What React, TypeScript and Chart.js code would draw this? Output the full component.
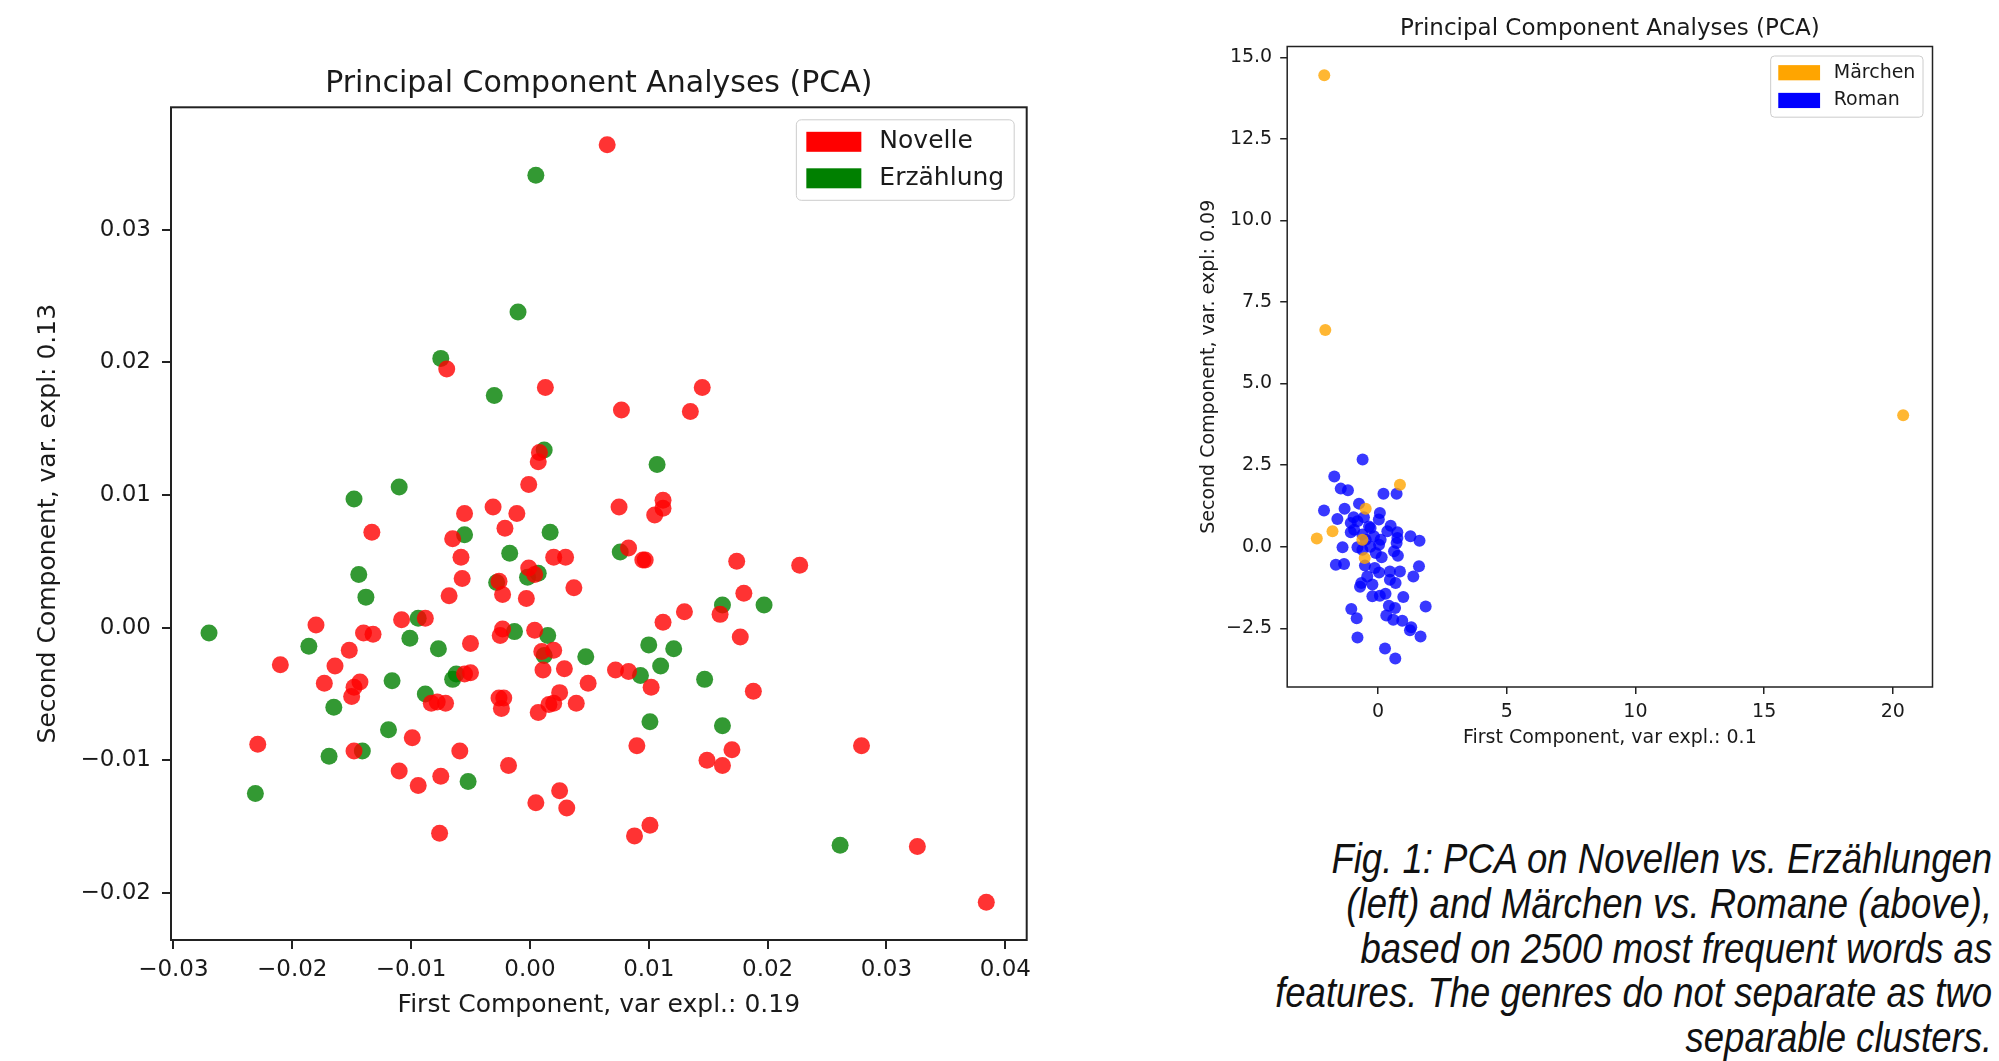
import React, { useEffect, useRef } from 'react';
import { Chart, registerables } from 'chart.js';

Chart.register(...registerables);

// ---------- Left chart data (Novelle vs. Erzählung) ----------
const novellePoints: [number, number][] = [
  [0.0065, 0.0364], [-0.0070, 0.0195], [0.0013, 0.0181], [0.0008, 0.0132], [0.0007, 0.0125],
  [-0.0001, 0.0108], [-0.0055, 0.0086], [-0.0031, 0.0091], [-0.0011, 0.0086], [0.0145, 0.0181],
  [0.0077, 0.0164], [0.0135, 0.0163], [0.0075, 0.0091], [0.0112, 0.0096], [0.0112, 0.0090],
  [0.0105, 0.0085], [-0.0133, 0.0072], [-0.0065, 0.0067], [-0.0021, 0.0075], [-0.0058, 0.0053],
  [0.0020, 0.0053], [0.0030, 0.0053], [-0.0001, 0.0045], [0.0004, 0.0040], [-0.0057, 0.0037],
  [-0.0026, 0.0035], [-0.0023, 0.0025], [-0.0068, 0.0024], [0.0037, 0.0030], [-0.0003, 0.0022],
  [-0.0108, 0.0006], [-0.0088, 0.0007], [-0.0180, 0.0002], [-0.0140, -0.0004], [-0.0132, -0.0005],
  [-0.0023, -0.0001], [-0.0025, -0.0006], [0.0004, -0.0002], [-0.0152, -0.0017], [-0.0050, -0.0012],
  [0.0010, -0.0018], [0.0020, -0.0017], [-0.0210, -0.0028], [-0.0164, -0.0029], [0.0011, -0.0032],
  [0.0029, -0.0031], [-0.0173, -0.0042], [-0.0143, -0.0041], [-0.0148, -0.0045], [-0.0150, -0.0052],
  [-0.0055, -0.0035], [-0.0050, -0.0034], [0.0049, -0.0042], [-0.0083, -0.0057], [-0.0078, -0.0056],
  [-0.0071, -0.0057], [-0.0026, -0.0053], [-0.0022, -0.0053], [-0.0024, -0.0061], [0.0025, -0.0049],
  [0.0016, -0.0058], [0.0020, -0.0057], [0.0007, -0.0064], [0.0039, -0.0057], [-0.0099, -0.0083],
  [-0.0229, -0.0088], [-0.0148, -0.0093], [-0.0059, -0.0093], [-0.0110, -0.0108], [-0.0075, -0.0112],
  [-0.0094, -0.0119], [-0.0018, -0.0104], [0.0005, -0.0132], [0.0025, -0.0123], [0.0031, -0.0136],
  [-0.0076, -0.0155], [0.0083, 0.0060], [0.0095, 0.0051], [0.0097, 0.0051], [0.0174, 0.0050],
  [0.0227, 0.0047], [0.0180, 0.0026], [0.0160, 0.0010], [0.0130, 0.0012], [0.0112, 0.0004],
  [0.0177, -0.0007], [0.0072, -0.0032], [0.0083, -0.0033], [0.0102, -0.0045], [0.0188, -0.0048],
  [0.0090, -0.0089], [0.0279, -0.0089], [0.0170, -0.0092], [0.0149, -0.0100], [0.0162, -0.0104],
  [0.0101, -0.0149], [0.0088, -0.0157], [0.0326, -0.0165], [0.0384, -0.0207],
];

const erzaehlungPoints: [number, number][] = [
  [0.0005, 0.0341], [-0.0010, 0.0238], [-0.0075, 0.0203], [-0.0030, 0.0175], [0.0012, 0.0134],
  [-0.0110, 0.0106], [-0.0148, 0.0097], [0.0107, 0.0123], [-0.0055, 0.0070], [0.0017, 0.0072],
  [-0.0017, 0.0056], [-0.0144, 0.0040], [0.0007, 0.0041], [-0.0002, 0.0038], [-0.0028, 0.0034],
  [-0.0138, 0.0023], [-0.0094, 0.0007], [-0.0270, -0.0004], [-0.0101, -0.0008], [-0.0013, -0.0003],
  [0.0015, -0.0006], [-0.0186, -0.0014], [-0.0077, -0.0016], [0.0012, -0.0021], [0.0047, -0.0022],
  [-0.0116, -0.0040], [-0.0062, -0.0035], [-0.0065, -0.0039], [-0.0165, -0.0060], [-0.0088, -0.0050],
  [-0.0119, -0.0077], [-0.0141, -0.0093], [-0.0169, -0.0097], [-0.0052, -0.0116], [-0.0231, -0.0125],
  [0.0076, 0.0057], [0.0162, 0.0017], [0.0197, 0.0017], [0.0100, -0.0013], [0.0121, -0.0016],
  [0.0093, -0.0036], [0.0110, -0.0029], [0.0147, -0.0039], [0.0101, -0.0071], [0.0162, -0.0074],
  [0.0261, -0.0164],
];

const leftXTickValues = [-0.03, -0.02, -0.01, 0, 0.01, 0.02, 0.03, 0.04];
const leftXTickLabels = ['−0.03', '−0.02', '−0.01', '0.00', '0.01', '0.02', '0.03', '0.04'];
const leftYTickValues = [-0.02, -0.01, 0, 0.01, 0.02, 0.03];
const leftYTickLabels = ['−0.02', '−0.01', '0.00', '0.01', '0.02', '0.03'];

// ---------- Right chart data (Märchen vs. Roman) ----------
const maerchenPoints: [number, number][] = [
  [-2.09, 14.45], [-2.05, 6.64], [20.4, 4.03], [0.85, 1.9], [-0.48, 1.16],
  [-1.77, 0.47], [-2.38, 0.25], [-0.61, 0.21], [-0.52, -0.35],
];

const romanPoints: [number, number][] = [
  [-0.6, 2.67], [-1.7, 2.15], [-1.45, 1.78], [-1.17, 1.73], [0.21, 1.62], [0.72, 1.62],
  [-0.74, 1.32], [-2.1, 1.11], [-1.3, 1.16], [-1.58, 0.85], [0.07, 1.03], [-1.06, 0.73],
  [-0.8, 0.78], [-0.35, 0.62], [0.03, 0.83], [0.49, 0.64], [0.75, 0.44], [-1.06, 0.44],
  [-0.61, 0.37], [0.1, 0.21], [-0.16, 0.32], [1.26, 0.32], [1.61, 0.18], [0.72, 0.11],
  [-1.38, -0.02], [-0.8, -0.02], [-0.61, -0.09], [-0.09, -0.19], [0.14, -0.32], [0.62, -0.14],
  [0.77, -0.28], [-1.64, -0.55], [-1.32, -0.53], [-0.51, -0.58], [-0.13, -0.65], [0.04, -0.79],
  [0.46, -0.76], [0.85, -0.76], [1.59, -0.6], [1.37, -0.91], [-0.42, -0.91], [-0.65, -1.11],
  [-0.22, -1.16], [0.46, -1.01], [0.68, -1.11], [-0.7, -1.23], [-0.22, -1.52], [0.07, -1.5],
  [0.29, -1.44], [0.98, -1.54], [1.85, -1.83], [-1.04, -1.91], [-0.83, -2.19], [0.42, -1.81],
  [0.66, -1.88], [0.32, -2.11], [0.59, -2.24], [0.94, -2.27], [1.29, -2.47], [1.24, -2.56],
  [1.65, -2.75], [-0.8, -2.78], [0.27, -3.12], [0.67, -3.43], [-0.93, 0.52], [-0.48, 0.21],
  [-0.29, 0.57], [0.36, 0.47], [0.75, 0.27], [0.04, 0.06], [-0.3, 0.0], [-0.55, 0.9], [-0.95, 0.9],
];

const rightXTickValues = [0, 5, 10, 15, 20];
const rightXTickLabels = ['0', '5', '10', '15', '20'];
const rightYTickValues = [-2.5, 0, 2.5, 5, 7.5, 10, 12.5, 15];
const rightYTickLabels = ['−2.5', '0.0', '2.5', '5.0', '7.5', '10.0', '12.5', '15.0'];

const captionLines = [
  'Fig. 1: PCA on Novellen vs. Erzählungen',
  '(left) and Märchen vs. Romane (above),',
  'based on 2500 most frequent words as',
  'features. The genres do not separate as two',
  'separable clusters.',
];

const FONT = '"DejaVu Sans"';
const TEXT = '#1a1a1a';

type LegendItem = { label: string; color: string };

function makeLegendPlugin(items: LegendItem[], fs: number) {
  return {
    id: 'mplLegend',
    afterDraw(chart: any) {
      const { ctx, chartArea } = chart;
      ctx.save();
      ctx.font = `${fs}px ${FONT}`;
      const pad = 0.4 * fs, hl = 2.2 * fs, hh = 0.8 * fs, tp = 0.72 * fs, row1 = 0.88 * fs, step = 1.46 * fs;
      const tw = Math.max(...items.map((i) => ctx.measureText(i.label).width));
      const w = pad + hl + tp + tw + pad;
      const h = 2 * row1 + step * (items.length - 1);
      const x = chartArea.right - 0.5 * fs - w;
      const y = chartArea.top + 0.5 * fs;
      ctx.beginPath();
      ctx.roundRect(x, y, w, h, 0.2 * fs);
      ctx.fillStyle = 'rgba(255,255,255,0.8)';
      ctx.fill();
      ctx.strokeStyle = '#cccccc';
      ctx.lineWidth = 1;
      ctx.stroke();
      items.forEach((it, i) => {
        const cy = y + row1 + i * step;
        ctx.fillStyle = it.color;
        ctx.fillRect(x + pad, cy - hh / 2, hl, hh);
        ctx.fillStyle = TEXT;
        ctx.textBaseline = 'middle';
        ctx.textAlign = 'left';
        ctx.fillText(it.label, x + pad + hl + tp, cy);
      });
      ctx.restore();
    },
  };
}

function makeFramePlugin(lw: number) {
  return {
    id: 'frame',
    afterDatasetsDraw(chart: any) {
      const { ctx, chartArea } = chart;
      const { left, top, right, bottom } = chartArea;
      ctx.save();
      ctx.strokeStyle = '#222';
      ctx.lineWidth = lw;
      ctx.strokeRect(left, top, right - left, bottom - top);
      ctx.restore();
    },
  };
}

// Title centred over the plot area (as matplotlib does)
function makeTitlePlugin(text: string, size: number, y: number) {
  return {
    id: 'mplTitle',
    afterDraw(chart: any) {
      const { ctx, chartArea } = chart;
      ctx.save();
      ctx.font = `${size}px ${FONT}`;
      ctx.fillStyle = TEXT;
      ctx.textAlign = 'center';
      ctx.textBaseline = 'middle';
      ctx.fillText(text, (chartArea.left + chartArea.right) / 2, y);
      ctx.restore();
    },
  };
}

type ChartSpec = {
  title: string;
  titleSize: number;
  titleY: number;
  plotTop: number;
  series: { label: string; points: [number, number][]; fill: string; legend: string }[];
  radius: number;
  xMin: number; xMax: number; yMin: number; yMax: number;
  xTicks: number[]; xLabels: string[]; yTicks: number[]; yLabels: string[];
  tickSize: number; labelSize: number; legendSize: number;
  xTitle: string; yTitle: string;
  yAxisWidth: number; xAxisHeight: number; rightPad: number;
  tickLen: number; xTickPad: number; yTickPad: number;
  xTitlePadBottom: number; yTitlePadTop: number;
  lineW: number;
};

function buildConfig(s: ChartSpec): any {
  return {
    type: 'scatter',
    data: {
      datasets: s.series.map((ser) => ({
        label: ser.label,
        data: ser.points.map(([x, y]) => ({ x, y })),
        backgroundColor: ser.fill,
        borderWidth: 0,
        pointBorderWidth: 0,
        pointRadius: s.radius,
        pointHoverRadius: s.radius,
      })),
    },
    options: {
      responsive: false,
      maintainAspectRatio: false,
      animation: false,
      events: [],
      layout: { padding: { left: 0, top: s.plotTop, right: s.rightPad, bottom: 0 } },
      plugins: {
        legend: { display: false },
        tooltip: { enabled: false },
        title: { display: false },
      },
      scales: {
        x: {
          type: 'linear',
          min: s.xMin,
          max: s.xMax,
          afterBuildTicks: (scale: any) => {
            scale.ticks = s.xTicks.map((v) => ({ value: v }));
          },
          afterFit: (scale: any) => {
            scale.height = s.xAxisHeight;
            scale.paddingLeft = 0;
            scale.paddingRight = 0;
          },
          ticks: {
            autoSkip: false,
            maxRotation: 0,
            padding: s.xTickPad,
            color: TEXT,
            font: { family: FONT, size: s.tickSize },
            callback: (_v: any, i: number) => s.xLabels[i],
          },
          grid: { display: true, drawOnChartArea: false, drawTicks: true, tickLength: s.tickLen, color: '#222', lineWidth: s.lineW },
          border: { display: false },
          title: {
            display: true,
            text: s.xTitle,
            color: TEXT,
            font: { family: FONT, size: s.labelSize, lineHeight: 1.2 },
            padding: { top: 0, bottom: s.xTitlePadBottom },
          },
        },
        y: {
          type: 'linear',
          min: s.yMin,
          max: s.yMax,
          afterBuildTicks: (scale: any) => {
            scale.ticks = s.yTicks.map((v) => ({ value: v }));
          },
          afterFit: (scale: any) => {
            scale.width = s.yAxisWidth;
            scale.paddingTop = 0;
            scale.paddingBottom = 0;
          },
          ticks: {
            autoSkip: false,
            padding: s.yTickPad,
            color: TEXT,
            font: { family: FONT, size: s.tickSize },
            callback: (_v: any, i: number) => s.yLabels[i],
          },
          grid: { display: true, drawOnChartArea: false, drawTicks: true, tickLength: s.tickLen, color: '#222', lineWidth: s.lineW },
          border: { display: false },
          title: {
            display: true,
            text: s.yTitle,
            color: TEXT,
            font: { family: FONT, size: s.labelSize, lineHeight: 1.2 },
            padding: { top: s.yTitlePadTop, bottom: 0 },
          },
        },
      },
    },
    plugins: [
      makeFramePlugin(s.lineW),
      makeTitlePlugin(s.title, s.titleSize, s.titleY),
      makeLegendPlugin(s.series.map((ser) => ({ label: ser.label, color: ser.legend })), s.legendSize),
    ],
  };
}

const leftSpec: ChartSpec = {
  title: 'Principal Component Analyses (PCA)',
  titleSize: 30,
  titleY: 84,
  plotTop: 107.3,
  series: [
    { label: 'Novelle', points: novellePoints, fill: 'rgba(255,0,0,0.8)', legend: '#ff0000' },
    { label: 'Erzählung', points: erzaehlungPoints, fill: 'rgba(0,128,0,0.8)', legend: '#008000' },
  ],
  radius: 8.5,
  xMin: -0.0302, xMax: 0.0418, yMin: -0.02355, yMax: 0.03923,
  xTicks: leftXTickValues, xLabels: leftXTickLabels, yTicks: leftYTickValues, yLabels: leftYTickLabels,
  tickSize: 23, labelSize: 25, legendSize: 25,
  xTitle: 'First Component, var expl.: 0.19',
  yTitle: 'Second Component, var. expl: 0.13',
  yAxisWidth: 171, xAxisHeight: 121, rightPad: 33.3,
  tickLen: 9, xTickPad: 7.5, yTickPad: 11,
  xTitlePadBottom: 40.5, yTitlePadTop: 33,
  lineW: 2,
};

const rightSpec: ChartSpec = {
  title: 'Principal Component Analyses (PCA)',
  titleSize: 23,
  titleY: 29.5,
  plotTop: 46.5,
  series: [
    { label: 'Märchen', points: maerchenPoints, fill: 'rgba(255,165,0,0.8)', legend: '#ffa500' },
    { label: 'Roman', points: romanPoints, fill: 'rgba(0,0,255,0.78)', legend: '#0000ff' },
  ],
  radius: 6,
  xMin: -3.53, xMax: 21.54, yMin: -4.3, yMax: 15.33,
  xTicks: rightXTickValues, xLabels: rightXTickLabels, yTicks: rightYTickValues, yLabels: rightYTickLabels,
  tickSize: 19, labelSize: 19, legendSize: 19,
  xTitle: 'First Component, var expl.: 0.1',
  yTitle: 'Second Component, var. expl: 0.09',
  yAxisWidth: 127.2, xAxisHeight: 73, rightPad: 66.5,
  tickLen: 7, xTickPad: 7, yTickPad: 8,
  xTitlePadBottom: 10.5, yTitlePadTop: 37.2,
  lineW: 1.5,
};

function ScatterCanvas({ spec, left, top, width, height }: { spec: ChartSpec; left: number; top: number; width: number; height: number }) {
  const ref = useRef<HTMLCanvasElement | null>(null);
  useEffect(() => {
    if (!ref.current) return;
    const chart = new Chart(ref.current, buildConfig(spec));
    return () => chart.destroy();
  }, [spec]);
  return (
    <canvas
      ref={ref}
      width={width}
      height={height}
      style={{ position: 'absolute', left, top, width, height }}
    />
  );
}

export default function App() {
  return (
    <div style={{ position: 'absolute', left: 0, top: 0, width: 1999, height: 1061, background: '#fff', overflow: 'hidden' }}>
      <ScatterCanvas spec={leftSpec} left={0} top={0} width={1060} height={1061} />
      <ScatterCanvas spec={rightSpec} left={1160} top={0} width={839} height={760} />
      <div
        style={{
          position: 'absolute',
          right: 7,
          top: 837,
          fontFamily: '"Liberation Sans", Arial, sans-serif',
          fontStyle: 'italic',
          fontSize: 42,
          lineHeight: '44.8px',
          color: '#111',
          textAlign: 'right',
          whiteSpace: 'pre',
          transform: 'scaleX(0.87)',
          transformOrigin: 'right top',
        }}
      >
        {captionLines.map((l, i) => (
          <div key={i}>{l}</div>
        ))}
      </div>
    </div>
  );
}
